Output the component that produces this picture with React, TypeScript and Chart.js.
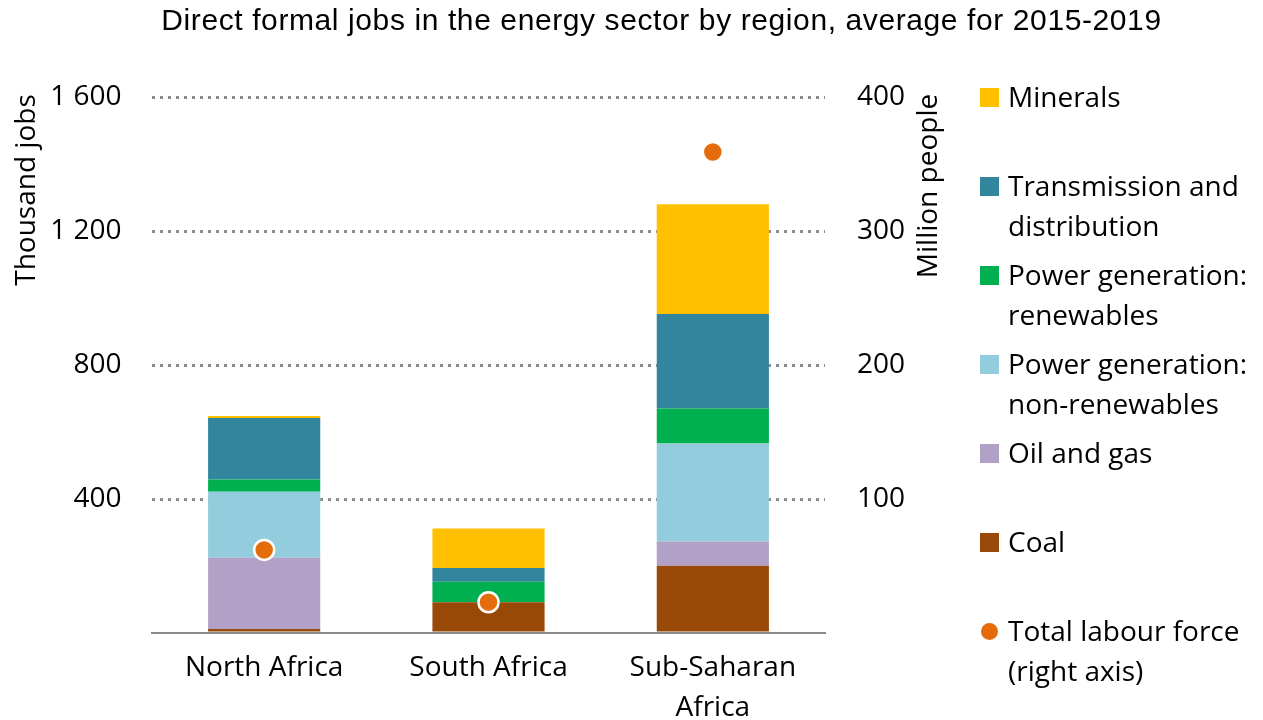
import React, { useEffect, useRef } from "react";
import { Chart, registerables } from "chart.js";

Chart.register(...registerables);

const TITLE = "Direct formal jobs in the energy sector by region, average for 2015-2019";
const LEFT_TITLE = "Thousand jobs";
const RIGHT_TITLE = "Million people";

const categories: (string | string[])[] = ["North Africa", "South Africa", ["Sub-Saharan", "Africa"]];

const coal = [12, 92, 201];
const oilGas = [213, 0, 72];
const nonRenewables = [197, 0, 293];
const renewables = [36, 61, 104];
const transmission = [184, 41, 282];
const minerals = [6, 118, 328];
const labourForce = [62, 23, 359];

const leftTicks = [0, 400, 800, 1200, 1600];
const rightTicks = [0, 100, 200, 300, 400];

const COLORS = {
  coal: "#984807",
  oilGas: "#B2A1C7",
  nonRenewables: "#93CDDD",
  renewables: "#00B050",
  transmission: "#31859C",
  minerals: "#FFC000",
  labour: "#E46C0A",
};

const legendItems: { lines: string[]; color: string; circle?: boolean }[] = [
  { lines: ["Minerals"], color: COLORS.minerals },
  { lines: ["Transmission and", "distribution"], color: COLORS.transmission },
  { lines: ["Power generation:", "renewables"], color: COLORS.renewables },
  { lines: ["Power generation:", "non-renewables"], color: COLORS.nonRenewables },
  { lines: ["Oil and gas"], color: COLORS.oilGas },
  { lines: ["Coal"], color: COLORS.coal },
  { lines: ["Total labour force", "(right axis)"], color: COLORS.labour, circle: true },
];

const FONT = '"Open Sans", "Noto Sans", sans-serif';
const FONT_SIZE = 28;

const fmt = (v: number) => {
  if (v === 0) return "";
  const s = String(v);
  return s.replace(/\B(?=(\d{3})+(?!\d))/g, " ");
};

const decorPlugin = {
  id: "decor",
  afterDraw(chart: any) {
    const ctx = chart.ctx as CanvasRenderingContext2D;
    ctx.save();
    // Title
    ctx.fillStyle = "#000";
    ctx.font = '30px "Liberation Sans", Arial, sans-serif';
    (ctx as any).letterSpacing = "0.6px";
    ctx.textAlign = "center";
    ctx.textBaseline = "alphabetic";
    ctx.fillText(TITLE, 653.5, 21.5);
    (ctx as any).letterSpacing = "0px";

    // Axis titles
    ctx.font = `${FONT_SIZE}px ${FONT}`;
    ctx.save();
    ctx.translate(27, 182);
    ctx.rotate(-Math.PI / 2);
    ctx.fillText(LEFT_TITLE, 0, 0);
    ctx.restore();
    ctx.save();
    ctx.translate(929, 178);
    ctx.rotate(-Math.PI / 2);
    ctx.fillText(RIGHT_TITLE, 0, 0);
    ctx.restore();

    // Legend
    ctx.textAlign = "left";
    const startY = 89.5;
    const step = 89;
    const lineH = 40;
    legendItems.forEach((item, i) => {
      const cy = startY + i * step;
      ctx.fillStyle = item.color;
      if (item.circle) {
        ctx.beginPath();
        ctx.arc(981.5, cy, 8.5, 0, Math.PI * 2);
        ctx.fill();
      } else {
        ctx.fillRect(972, cy - 9.5, 19, 19);
      }
      ctx.fillStyle = "#000";
      item.lines.forEach((ln, j) => {
        ctx.fillText(ln, 1000, cy + 9.5 + j * lineH);
      });
    });
    ctx.restore();
  },
};

export default function App() {
  const ref = useRef<HTMLCanvasElement | null>(null);

  useEffect(() => {
    if (!ref.current) return;
    const barCommon = {
      type: "bar" as const,
      yAxisID: "y",
      stack: "jobs",
      order: 1,
      barPercentage: 1,
      categoryPercentage: 0.5,
      borderWidth: 0,
    };
    const chart = new Chart(ref.current, {
      type: "bar",
      data: {
        labels: categories as any,
        datasets: [
          { ...barCommon, label: "Coal", data: coal, backgroundColor: COLORS.coal },
          { ...barCommon, label: "Oil and gas", data: oilGas, backgroundColor: COLORS.oilGas },
          { ...barCommon, label: "Power generation: non-renewables", data: nonRenewables, backgroundColor: COLORS.nonRenewables },
          { ...barCommon, label: "Power generation: renewables", data: renewables, backgroundColor: COLORS.renewables },
          { ...barCommon, label: "Transmission and distribution", data: transmission, backgroundColor: COLORS.transmission },
          { ...barCommon, label: "Minerals", data: minerals, backgroundColor: COLORS.minerals },
          {
            type: "line" as const,
            label: "Total labour force (right axis)",
            data: labourForce,
            yAxisID: "y2",
            order: 0,
            showLine: false,
            pointRadius: 10,
            pointBorderWidth: 2.5,
            pointBackgroundColor: COLORS.labour,
            pointBorderColor: "#FFFFFF",
            backgroundColor: COLORS.labour,
            borderColor: "#FFFFFF",
          } as any,
        ],
      },
      options: {
        responsive: false,
        animation: false,
        layout: { padding: { top: 89, left: 0, right: 0, bottom: 0 } },
        plugins: {
          legend: { display: false },
          title: { display: false },
          tooltip: { enabled: false },
        },
        scales: {
          x: {
            stacked: true,
            grid: { display: false, drawTicks: false },
            border: { display: true, color: "#8A8A8A", width: 2 },
            ticks: {
              color: "#000",
              padding: 15,
              font: { family: FONT, size: FONT_SIZE, lineHeight: 40 / FONT_SIZE },
              maxRotation: 0,
              autoSkip: false,
            },
            afterFit(scale: any) {
              scale.height = 87;
            },
          },
          y: {
            type: "linear",
            position: "left",
            stacked: true,
            min: leftTicks[0],
            max: leftTicks[leftTicks.length - 1],
            afterBuildTicks(scale: any) {
              scale.ticks = leftTicks.map((v) => ({ value: v }));
            },
            grid: {
              drawTicks: false,
              color: (c: any) => (c.tick && c.tick.value === 0 ? "rgba(0,0,0,0)" : "#8C8C8C"),
              lineWidth: 3,
            },
            border: { display: false, dash: [3, 5] },
            ticks: {
              color: "#000",
              padding: 30.5,
              font: { family: FONT, size: FONT_SIZE },
              callback: (v: any) => fmt(Number(v)),
            },
            afterFit(scale: any) {
              scale.width = 144;
            },
          },
          y2: {
            type: "linear",
            position: "right",
            min: rightTicks[0],
            max: rightTicks[rightTicks.length - 1],
            afterBuildTicks(scale: any) {
              scale.ticks = rightTicks.map((v) => ({ value: v }));
            },
            grid: { display: false, drawTicks: false },
            border: { display: false },
            ticks: {
              color: "#000",
              padding: 32,
              font: { family: FONT, size: FONT_SIZE },
              callback: (v: any) => fmt(Number(v)),
            },
            afterFit(scale: any) {
              scale.width = 430;
            },
          },
        },
      },
      plugins: [decorPlugin],
    });
    return () => chart.destroy();
  }, []);

  return (
    <div style={{ width: 1247, height: 712 }}>
      <canvas ref={ref} width={1247} height={712} style={{ display: "block" }} />
    </div>
  );
}
